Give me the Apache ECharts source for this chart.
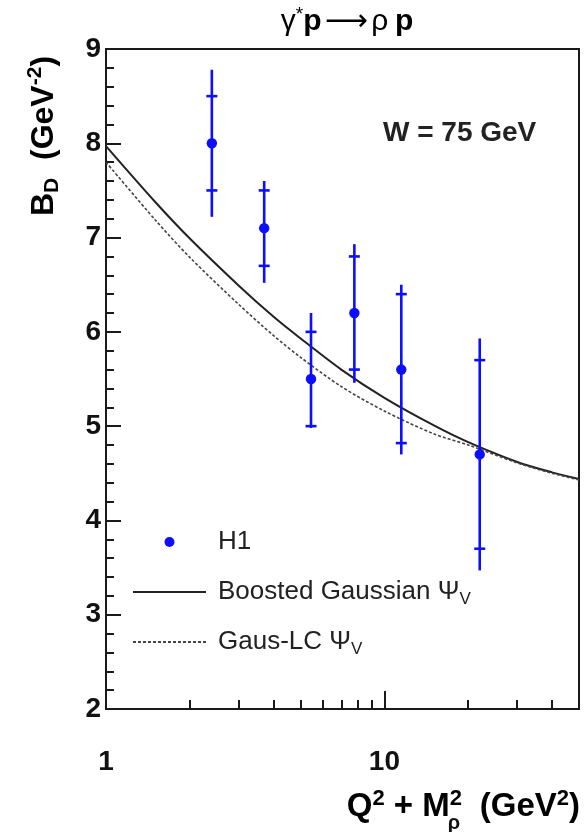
<!DOCTYPE html>
<html>
<head>
<meta charset="utf-8">
<script src="https://cdn.jsdelivr.net/npm/echarts@6/dist/echarts.min.js"></script>
<style>
  html, body { margin: 0; padding: 0; background: #fff; }
  #chart { width: 586px; height: 832px; }
</style>
</head>
<body>
<div id="chart"></div>
<script>
// H1 points, W = 75 GeV
var q2m2 = [2.4, 3.7, 5.45, 7.8, 11.5, 22.0];
var slopeB = [8.0, 7.1, 5.5, 6.2, 5.6, 4.7];
var statLow = [7.5, 6.7, 5.0, 5.6, 4.82, 3.7];
var statHigh = [8.5, 7.5, 6.0, 6.8, 6.4, 5.7];
var totLow = [7.22, 6.52, 4.98, 5.46, 4.7, 3.47];
var totHigh = [8.78, 7.6, 6.2, 6.93, 6.5, 5.93];

// model curves
var curveX = [1, 1.5, 2, 3, 4, 5, 7, 10, 15, 20, 30, 40, 50];
var boostedB = [7.97, 7.38, 6.99, 6.49, 6.16, 5.93, 5.60, 5.30, 5.01, 4.83, 4.62, 4.51, 4.44];
var gausLcB = [7.80, 7.19, 6.79, 6.29, 5.96, 5.73, 5.42, 5.16, 4.92, 4.80, 4.61, 4.50, 4.43];

// ticks
var xLabels = [1, 10];
var xMajorTicks = [10];
var xMinorTicks = [2, 3, 4, 5, 6, 7, 8, 9, 20, 30, 40];

var font = '"Liberation Sans", Arial, Helvetica, sans-serif';
var ink = '#1a1a1a';
var blue = '#0d0dff';

var points = q2m2.map(function (x, i) {
    return [x, slopeB[i], statLow[i], statHigh[i], totLow[i], totHigh[i]];
});
var boosted = curveX.map(function (x, i) { return [x, boostedB[i]]; });
var gausLc = curveX.map(function (x, i) { return [x, gausLcB[i]]; });

var richTxt = function (size, weight, color) {
    return {
        m: { fontSize: size, fontWeight: weight, fontFamily: font, color: color, lineHeight: size + 6 },
        sup: { fontSize: Math.round(size * 0.66), fontWeight: weight, fontFamily: font, color: color, verticalAlign: 'top', lineHeight: Math.round(size * 0.66) },
        sub: { fontSize: Math.round(size * 0.66), fontWeight: weight, fontFamily: font, color: color, verticalAlign: 'bottom', lineHeight: Math.round(size * 0.66) }
    };
};

var legendNames = {
    'H1': '{m|H1}{sub| }',
    'Boosted Gaussian': '{m|Boosted Gaussian Ψ}{sub|V}',
    'Gaus-LC': '{m|Gaus-LC Ψ}{sub|V}'
};

var myChart = echarts.init(document.getElementById('chart'));

var option = {
    animation: false,
    backgroundColor: '#fff',
    grid: {
        left: 106, right: 7, top: 49, bottom: 123,
        show: true, borderColor: ink, borderWidth: 2, backgroundColor: 'transparent'
    },
    legend: {
        orient: 'vertical',
        left: 132,
        top: 529,
        padding: 0,
        itemWidth: 73,
        itemHeight: 10,
        itemGap: 21,
        data: [
            { name: 'H1', icon: 'circle' },
            { name: 'Boosted Gaussian', itemStyle: { opacity: 0 } },
            { name: 'Gaus-LC', itemStyle: { opacity: 0 } }
        ],
        formatter: function (name) { return legendNames[name]; },
        textStyle: { padding: [0, 0, 0, 7], rich: richTxt(26, 'normal', '#222') }
    },
    xAxis: [{
        type: 'log',
        logBase: 10,
        min: 1,
        max: 50,
        position: 'bottom',
        axisLine: { lineStyle: { color: ink, width: 2 } },
        axisTick: { inside: true, length: 18, customValues: xMajorTicks, lineStyle: { color: ink, width: 2 } },
        axisLabel: {
            customValues: xLabels,
            margin: 39,
            fontSize: 28, fontWeight: 'bold', fontFamily: font, color: '#111'
        },
        splitLine: { show: false }
    }, {
        type: 'log',
        logBase: 10,
        min: 1,
        max: 50,
        position: 'bottom',
        axisLine: { show: false },
        axisTick: { inside: true, length: 9, customValues: xMinorTicks, lineStyle: { color: ink, width: 2 } },
        axisLabel: { show: false },
        splitLine: { show: false }
    }],
    yAxis: {
        type: 'value',
        min: 2,
        max: 9,
        interval: 1,
        axisLine: { show: true, lineStyle: { color: ink, width: 2 } },
        axisTick: { inside: true, length: 15, lineStyle: { color: ink, width: 2 } },
        minorTick: { show: true, splitNumber: 5, length: 8, lineStyle: { color: ink, width: 2 } },
        axisLabel: { margin: 5, fontSize: 28, fontWeight: 'bold', fontFamily: font, color: '#111' },
        splitLine: { show: false }
    },
    series: [{
        name: 'Boosted Gaussian',
        type: 'line',
        data: boosted,
        smooth: 0.3,
        symbol: 'none',
        lineStyle: { color: '#222', width: 2 },
        itemStyle: { color: '#222' },
        z: 2
    }, {
        name: 'Gaus-LC',
        type: 'line',
        data: gausLc,
        smooth: 0.3,
        symbol: 'none',
        lineStyle: { color: '#444', width: 1.6, type: [3, 2] },
        itemStyle: { color: '#444' },
        z: 2
    }, {
        name: 'H1',
        type: 'custom',
        data: points,
        encode: { x: 0, y: [1, 2, 3, 4, 5] },
        itemStyle: { color: blue },
        z: 3,
        renderItem: function (params, api) {
            var x = api.value(0);
            var c = api.coord([x, api.value(1)]);
            var sLo = api.coord([x, api.value(2)]);
            var sHi = api.coord([x, api.value(3)]);
            var tLo = api.coord([x, api.value(4)]);
            var tHi = api.coord([x, api.value(5)]);
            var st = { stroke: blue, lineWidth: 2.6 };
            return {
                type: 'group',
                children: [
                    { type: 'line', shape: { x1: c[0], y1: tHi[1], x2: c[0], y2: tLo[1] }, style: st },
                    { type: 'line', shape: { x1: c[0] - 5.5, y1: sHi[1], x2: c[0] + 5.5, y2: sHi[1] }, style: st },
                    { type: 'line', shape: { x1: c[0] - 5.5, y1: sLo[1], x2: c[0] + 5.5, y2: sLo[1] }, style: st },
                    { type: 'circle', shape: { cx: c[0], cy: c[1], r: 5.2 }, style: { fill: blue } }
                ]
            };
        }
    }],
    graphic: [{
        // title
        type: 'text',
        x: 347, y: 22,
        style: {
            text: '{n|γ}{sup|*}{b|p} {a|⟶} {n|ρ}  {b|p}',
            align: 'center', verticalAlign: 'middle',
            rich: {
                n: { fontSize: 30, fontFamily: font, color: '#222', lineHeight: 34 },
                b: { fontSize: 30, fontWeight: 'bold', fontFamily: font, color: '#222', lineHeight: 34 },
                a: { fontSize: 30, fontFamily: '"DejaVu Sans", sans-serif', color: '#222', lineHeight: 34 },
                sup: { fontSize: 19, fontFamily: font, color: '#222', verticalAlign: 'top', lineHeight: 19 }
            }
        }
    }, {
        type: 'text',
        x: 383, y: 133,
        style: {
            text: 'W = 75 GeV',
            align: 'left', verticalAlign: 'middle',
            fontSize: 28, fontWeight: 'bold', fontFamily: font, fill: '#222'
        }
    }, {
        // y axis title
        type: 'text',
        x: 44, y: 136,
        rotation: Math.PI / 2,
        style: {
            text: '{m|B}{sub|D}{m|  (GeV}{sup|-2}{m|)}',
            align: 'center', verticalAlign: 'middle',
            rich: richTxt(32, 'bold', '#111')
        }
    }, {
        // x axis title
        type: 'text',
        x: 462, y: 807,
        style: {
            text: '{m|Q}{sup|2}{m| + M}{sup|2}',
            align: 'right', verticalAlign: 'middle',
            rich: richTxt(33, 'bold', '#111')
        }
    }, {
        type: 'text',
        x: 454, y: 823,
        style: {
            text: 'ρ',
            align: 'center', verticalAlign: 'middle',
            fontSize: 20, fontWeight: 'bold', fontFamily: font, fill: '#111'
        }
    }, {
        type: 'text',
        x: 580, y: 807,
        style: {
            text: '{m|(GeV}{sup|2}{m|)}',
            align: 'right', verticalAlign: 'middle',
            rich: richTxt(33, 'bold', '#111')
        }
    }]
};

myChart.setOption(option);
</script>
</body>
</html>
